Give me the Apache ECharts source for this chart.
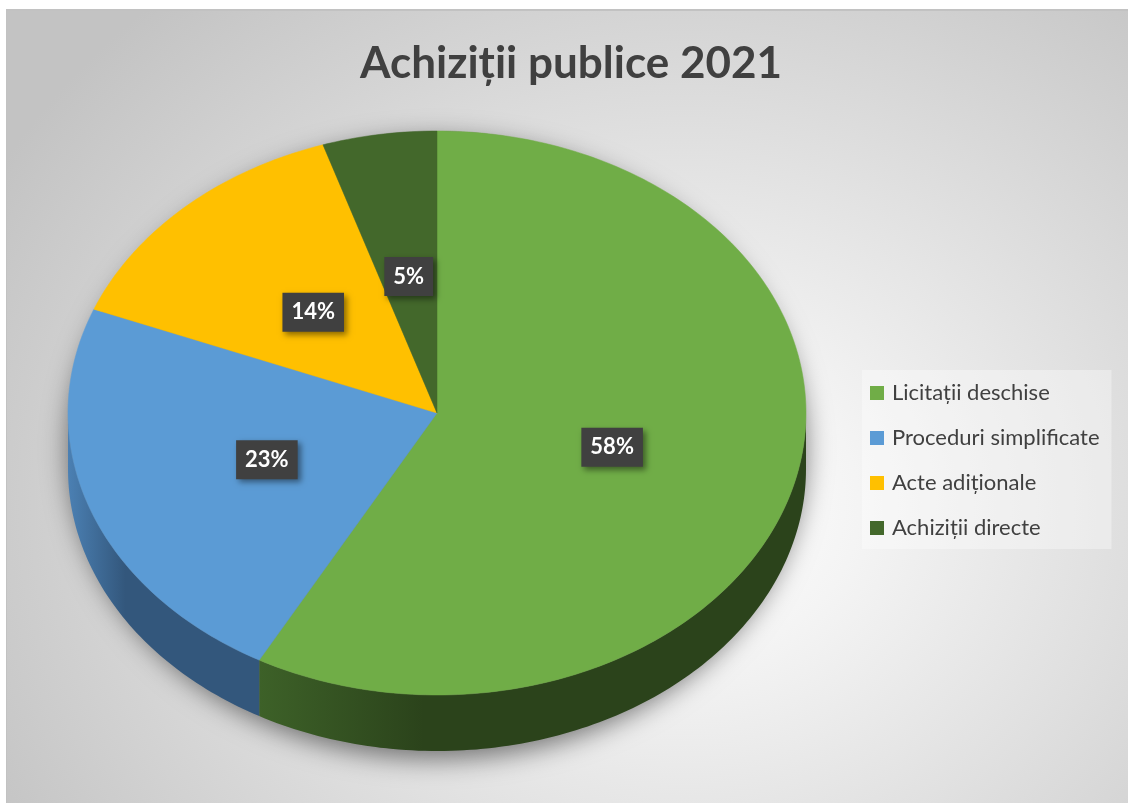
<!DOCTYPE html>
<html>
<head>
<meta charset="utf-8">
<script src="https://cdn.jsdelivr.net/npm/echarts@6/dist/echarts.min.js"></script>
<style>
  html, body { margin: 0; padding: 0; background: #fff; overflow: hidden; width: 1128px; height: 803px; }
  #frame {
    position: absolute; left: 6px; top: 9px; width: 1130px; height: 800px;
    border-left: 1px solid #c2c2c2; border-top: 2px solid #c2c2c2;
    background: radial-gradient(ellipse 70% 85% at 60% 62%, #ffffff 0%, #f4f4f4 22%, #c3c3c3 100%);
  }
  #chart { position: absolute; left: 14px; top: 0; width: 1114px; height: 803px; }
</style>
</head>
<body>
<div id="frame"></div>
<div id="chart"></div>
<script>
// data
const categories = ['Licitații deschise', 'Proceduri simplificate', 'Acte adiționale', 'Achiziții directe'];
const values = [58, 23, 14, 5];

// look
const topColors = ['#70ad47', '#5b9bd5', '#ffc000', '#43682b'];
const sideColors = [['#3d6128', '#2b431b'], ['#4b80b3', '#33577c'], ['#a07800', '#806000'], ['#2b441c', '#223616']];
const FONT = 'Lato, "Noto Sans", sans-serif';

// pie geometry (chart coords), tilted pie = ellipse + extruded side
const CX = 423, CY = 413, RX = 369, RY = 282, DEPTH = 56;
const total = values.reduce((a, b) => a + b, 0);

const pt = (t, dy) => [CX + RX * Math.sin(t), CY - RY * Math.cos(t) + (dy || 0)];

function arc(a0, a1, dy) {
  const n = Math.max(2, Math.ceil(Math.abs(a1 - a0) / (Math.PI / 180)));
  const out = [];
  for (let k = 0; k <= n; k++) out.push(pt(a0 + (a1 - a0) * k / n, dy));
  return out;
}

function makeRender(i) {
  return function (params, api) {
    const v = api.value(0);
    let before = 0;
    for (let j = 0; j < i; j++) before += values[j];
    const a0 = before / total * Math.PI * 2;
    const a1 = (before + v) / total * Math.PI * 2;
    const children = [];

    // soft drop shadow under the whole disc
    if (i === 0) {
      children.push({
        type: 'ellipse', z2: 0, silent: true,
        shape: { cx: CX, cy: CY + DEPTH / 2, rx: RX, ry: RY + DEPTH / 2 },
        style: { fill: '#777777', shadowBlur: 26, shadowColor: 'rgba(0,0,0,0.5)', shadowOffsetX: 0, shadowOffsetY: 8 }
      });
    }

    // front side wall (visible between 90° and 270°)
    const s = Math.max(a0, Math.PI / 2), e = Math.min(a1, Math.PI * 1.5);
    if (s < e) {
      const pts = arc(s, e, 0).concat(arc(e, s, DEPTH));
      children.push({
        type: 'polygon', z2: 1,
        shape: { points: pts },
        style: {
          fill: new echarts.graphic.LinearGradient(0, 0, 1, 0, [
            { offset: 0, color: sideColors[i][0] },
            { offset: 0.3, color: sideColors[i][1] },
            { offset: 1, color: sideColors[i][1] }
          ]),
          stroke: null
        }
      });
    }

    // top face
    children.push({
      type: 'polygon', z2: 2,
      shape: { points: [[CX, CY]].concat(arc(a0, a1, 0)) },
      style: { fill: topColors[i], stroke: topColors[i], lineWidth: 0.5 }
    });

    // percentage label
    const mid = (a0 + a1) / 2;
    children.push({
      type: 'text', z2: 10,
      style: {
        text: Math.round(v / total * 100) + '%',
        x: CX + 0.49 * RX * Math.sin(mid),
        y: CY - 0.49 * RY * Math.cos(mid),
        align: 'center', verticalAlign: 'middle',
        fill: '#ffffff',
        font: 'bold 22px ' + FONT,
        backgroundColor: '#404040',
        padding: [9, 9, 8, 9],
        shadowBlur: 6, shadowColor: 'rgba(0,0,0,0.45)', shadowOffsetX: 3, shadowOffsetY: 3
      }
    });

    return { type: 'group', children };
  };
}

const chart = echarts.init(document.getElementById('chart'));
chart.setOption({
  animation: false,
  title: {
    text: 'Achiziții publice 2021',
    left: 'center', top: 42, padding: 0,
    textStyle: { fontFamily: FONT, fontWeight: 'bold', fontSize: 44, color: '#404040' }
  },
  legend: {
    orient: 'vertical',
    left: 848, top: 370,
    padding: [12, 12, 10, 8],
    backgroundColor: 'rgba(255,255,255,0.35)',
    icon: 'rect', itemWidth: 14, itemHeight: 14, itemGap: 23,
    data: categories,
    textStyle: { fontFamily: FONT, fontSize: 22, color: '#404040', lineHeight: 22, padding: [0, 0, 0, 3] }
  },
  series: categories.map((name, i) => ({
    type: 'custom',
    name,
    coordinateSystem: 'none',
    itemStyle: { color: topColors[i] },
    data: [values[i]],
    renderItem: makeRender(i)
  }))
});
</script>
</body>
</html>
